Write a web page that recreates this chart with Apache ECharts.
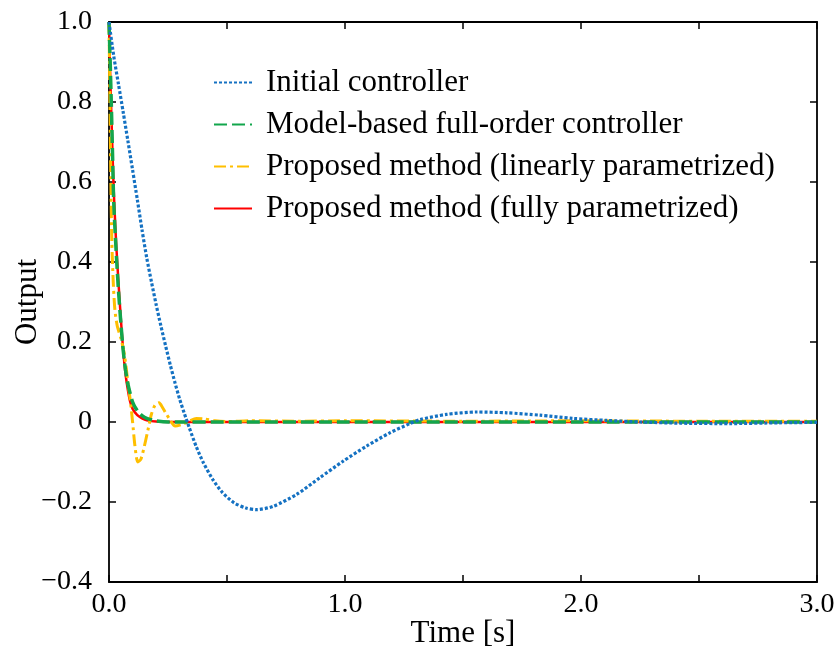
<!DOCTYPE html>
<html>
<head>
<meta charset="utf-8">
<script src="https://cdn.jsdelivr.net/npm/echarts@6/dist/echarts.min.js"></script>
<style>
    html, body { margin: 0; padding: 0; background: #fff; }
    #chart { width: 839px; height: 656px; }
</style>
</head>
<body>
<div id="chart"></div>
<script>
(function () {
    var chart = echarts.init(document.getElementById('chart'));

    // [time, output] pairs
    var initialData = [
        [0, 1], [0.02, 0.915], [0.04, 0.845], [0.06, 0.775], [0.08, 0.703], [0.1, 0.63],
        [0.12, 0.556], [0.14, 0.48], [0.16, 0.41], [0.18, 0.35], [0.2, 0.293], [0.22, 0.24],
        [0.24, 0.19], [0.26, 0.142], [0.28, 0.097], [0.3, 0.056], [0.32, 0.02], [0.34, -0.014],
        [0.37, -0.062], [0.4, -0.102], [0.44, -0.144], [0.48, -0.176], [0.53, -0.202],
        [0.58, -0.215], [0.626, -0.219], [0.695, -0.211], [0.795, -0.181], [0.894, -0.139],
        [0.992, -0.098], [1.092, -0.06], [1.19, -0.027], [1.275, -0.004], [1.318, 0.006],
        [1.43, 0.019], [1.558, 0.025], [1.685, 0.023], [1.826, 0.017], [1.966, 0.009],
        [2.109, 0.004], [2.25, 0], [2.42, -0.003], [2.63, -0.004], [2.84, -0.002], [3.0, -0.001]
    ];
    var modelData = [
        [0, 1], [0.005, 0.9], [0.01, 0.79], [0.015, 0.67], [0.02, 0.55], [0.03, 0.43], [0.04, 0.33],
        [0.05, 0.25], [0.06, 0.18], [0.07, 0.13], [0.08, 0.095], [0.1, 0.05], [0.12, 0.028],
        [0.14, 0.016], [0.16, 0.009], [0.2, 0.003], [0.25, 0], [1.0, 0], [2.0, 0], [3.0, 0]
    ];
    var linearData = [
        [0, 1], [0.004, 0.8], [0.008, 0.6], [0.012, 0.45], [0.018, 0.35], [0.025, 0.28], [0.035, 0.24],
        [0.05, 0.21], [0.065, 0.17], [0.08, 0.1], [0.09, 0.055], [0.1, 0.0], [0.11, -0.06],
        [0.122, -0.1], [0.135, -0.093], [0.15, -0.06], [0.165, -0.02], [0.18, 0.02], [0.195, 0.042],
        [0.212, 0.048], [0.228, 0.035], [0.245, 0.018], [0.26, 0.004], [0.28, -0.01], [0.31, -0.006],
        [0.34, 0.002], [0.37, 0.009], [0.4, 0.008], [0.45, 0.003], [0.5, 0.001], [0.6, 0.003],
        [0.8, 0.002], [1.0, 0.003], [1.5, 0.002], [2.0, 0.003], [2.5, 0.002], [3.0, 0.002]
    ];
    var fullData = [
        [0, 1], [0.005, 0.87], [0.01, 0.77], [0.015, 0.67], [0.02, 0.58], [0.03, 0.45], [0.04, 0.35],
        [0.05, 0.26], [0.06, 0.18], [0.07, 0.12], [0.08, 0.08], [0.09, 0.05], [0.1, 0.033],
        [0.12, 0.017], [0.14, 0.009], [0.16, 0.004], [0.2, 0.001], [0.3, 0], [1.0, 0], [2.0, 0], [3.0, 0]
    ];

    var legendNames = [
        'Initial controller',
        'Model-based full-order controller',
        'Proposed method (linearly parametrized)',
        'Proposed method (fully parametrized)'
    ];
    var yTickLabels = ['\u22120.4', '\u22120.2', '0', '0.2', '0.4', '0.6', '0.8', '1.0'];
    var xMin = 0, xMax = 3, xStep = 0.5;
    var yMin = -0.4, yMax = 1.0, yStep = 0.2;

    var font = 'Liberation Serif';
    var axisLine = { show: true, onZero: false, lineStyle: { color: '#000', width: 1.8 } };
    var axisTick = { show: true, inside: true, length: 7, lineStyle: { color: '#000', width: 1.5 } };

    function lineSeries(name, data, color, width, type, z) {
        return {
            name: name,
            type: 'line',
            data: data,
            symbol: 'none',
            smooth: 0.25,
            z: z,
            lineStyle: { color: color, width: width, type: type, cap: 'butt' },
            itemStyle: { color: color }
        };
    }

    var option = {
        backgroundColor: '#fff',
        animation: false,
        grid: { left: 109, right: 22, top: 22, bottom: 74, containLabel: false, outerBoundsMode: 'none' },
        legend: {
            orient: 'vertical',
            left: 213,
            top: 67,
            padding: 0,
            itemGap: 11,
            itemWidth: 38,
            itemHeight: 14,
            itemStyle: { opacity: 0 },
            data: legendNames,
            textStyle: {
                fontFamily: font,
                fontSize: 31,
                color: '#000',
                padding: [0, 0, 0, 9]
            }
        },
        xAxis: [
            {
                type: 'value',
                min: xMin,
                max: xMax,
                interval: xStep,
                position: 'bottom',
                axisLine: axisLine,
                axisTick: axisTick,
                splitLine: { show: false },
                axisLabel: {
                    fontFamily: font,
                    fontSize: 28,
                    color: '#000',
                    margin: 9,
                    formatter: function (v) {
                        return Math.abs(v - Math.round(v)) < 1e-6 ? v.toFixed(1) : '';
                    }
                },
                name: 'Time [s]',
                nameLocation: 'middle',
                nameGap: 36,
                nameMoveOverlap: false,
                nameTextStyle: { fontFamily: font, fontSize: 31, color: '#000' }
            },
            {
                type: 'value',
                min: xMin,
                max: xMax,
                interval: xStep,
                position: 'top',
                axisLine: axisLine,
                axisTick: axisTick,
                splitLine: { show: false },
                axisLabel: { show: false }
            }
        ],
        yAxis: [
            {
                type: 'value',
                min: yMin,
                max: yMax,
                interval: yStep,
                position: 'left',
                axisLine: axisLine,
                axisTick: axisTick,
                splitLine: { show: false },
                axisLabel: {
                    fontFamily: font,
                    fontSize: 28,
                    color: '#000',
                    margin: 17,
                    formatter: function (v) {
                        return yTickLabels[Math.round((v - yMin) / yStep)];
                    }
                },
                name: 'Output',
                nameLocation: 'middle',
                nameGap: 66,
                nameMoveOverlap: false,
                nameRotate: 90,
                nameTextStyle: { fontFamily: font, fontSize: 31, color: '#000' }
            },
            {
                type: 'value',
                min: yMin,
                max: yMax,
                interval: yStep,
                position: 'right',
                axisLine: axisLine,
                axisTick: axisTick,
                splitLine: { show: false },
                axisLabel: { show: false }
            }
        ],
        series: [
            lineSeries(legendNames[3], fullData, '#ff0000', 2.5, 'solid', 2),
            lineSeries(legendNames[2], linearData, '#ffbf00', 3, [12, 4, 3, 4], 3),
            lineSeries(legendNames[1], modelData, '#12a64c', 3.5, [13, 5], 4),
            lineSeries(legendNames[0], initialData, '#1471c2', 3.2, [3, 2], 5)
        ]
    };

    chart.setOption(option);
})();
</script>
</body>
</html>
